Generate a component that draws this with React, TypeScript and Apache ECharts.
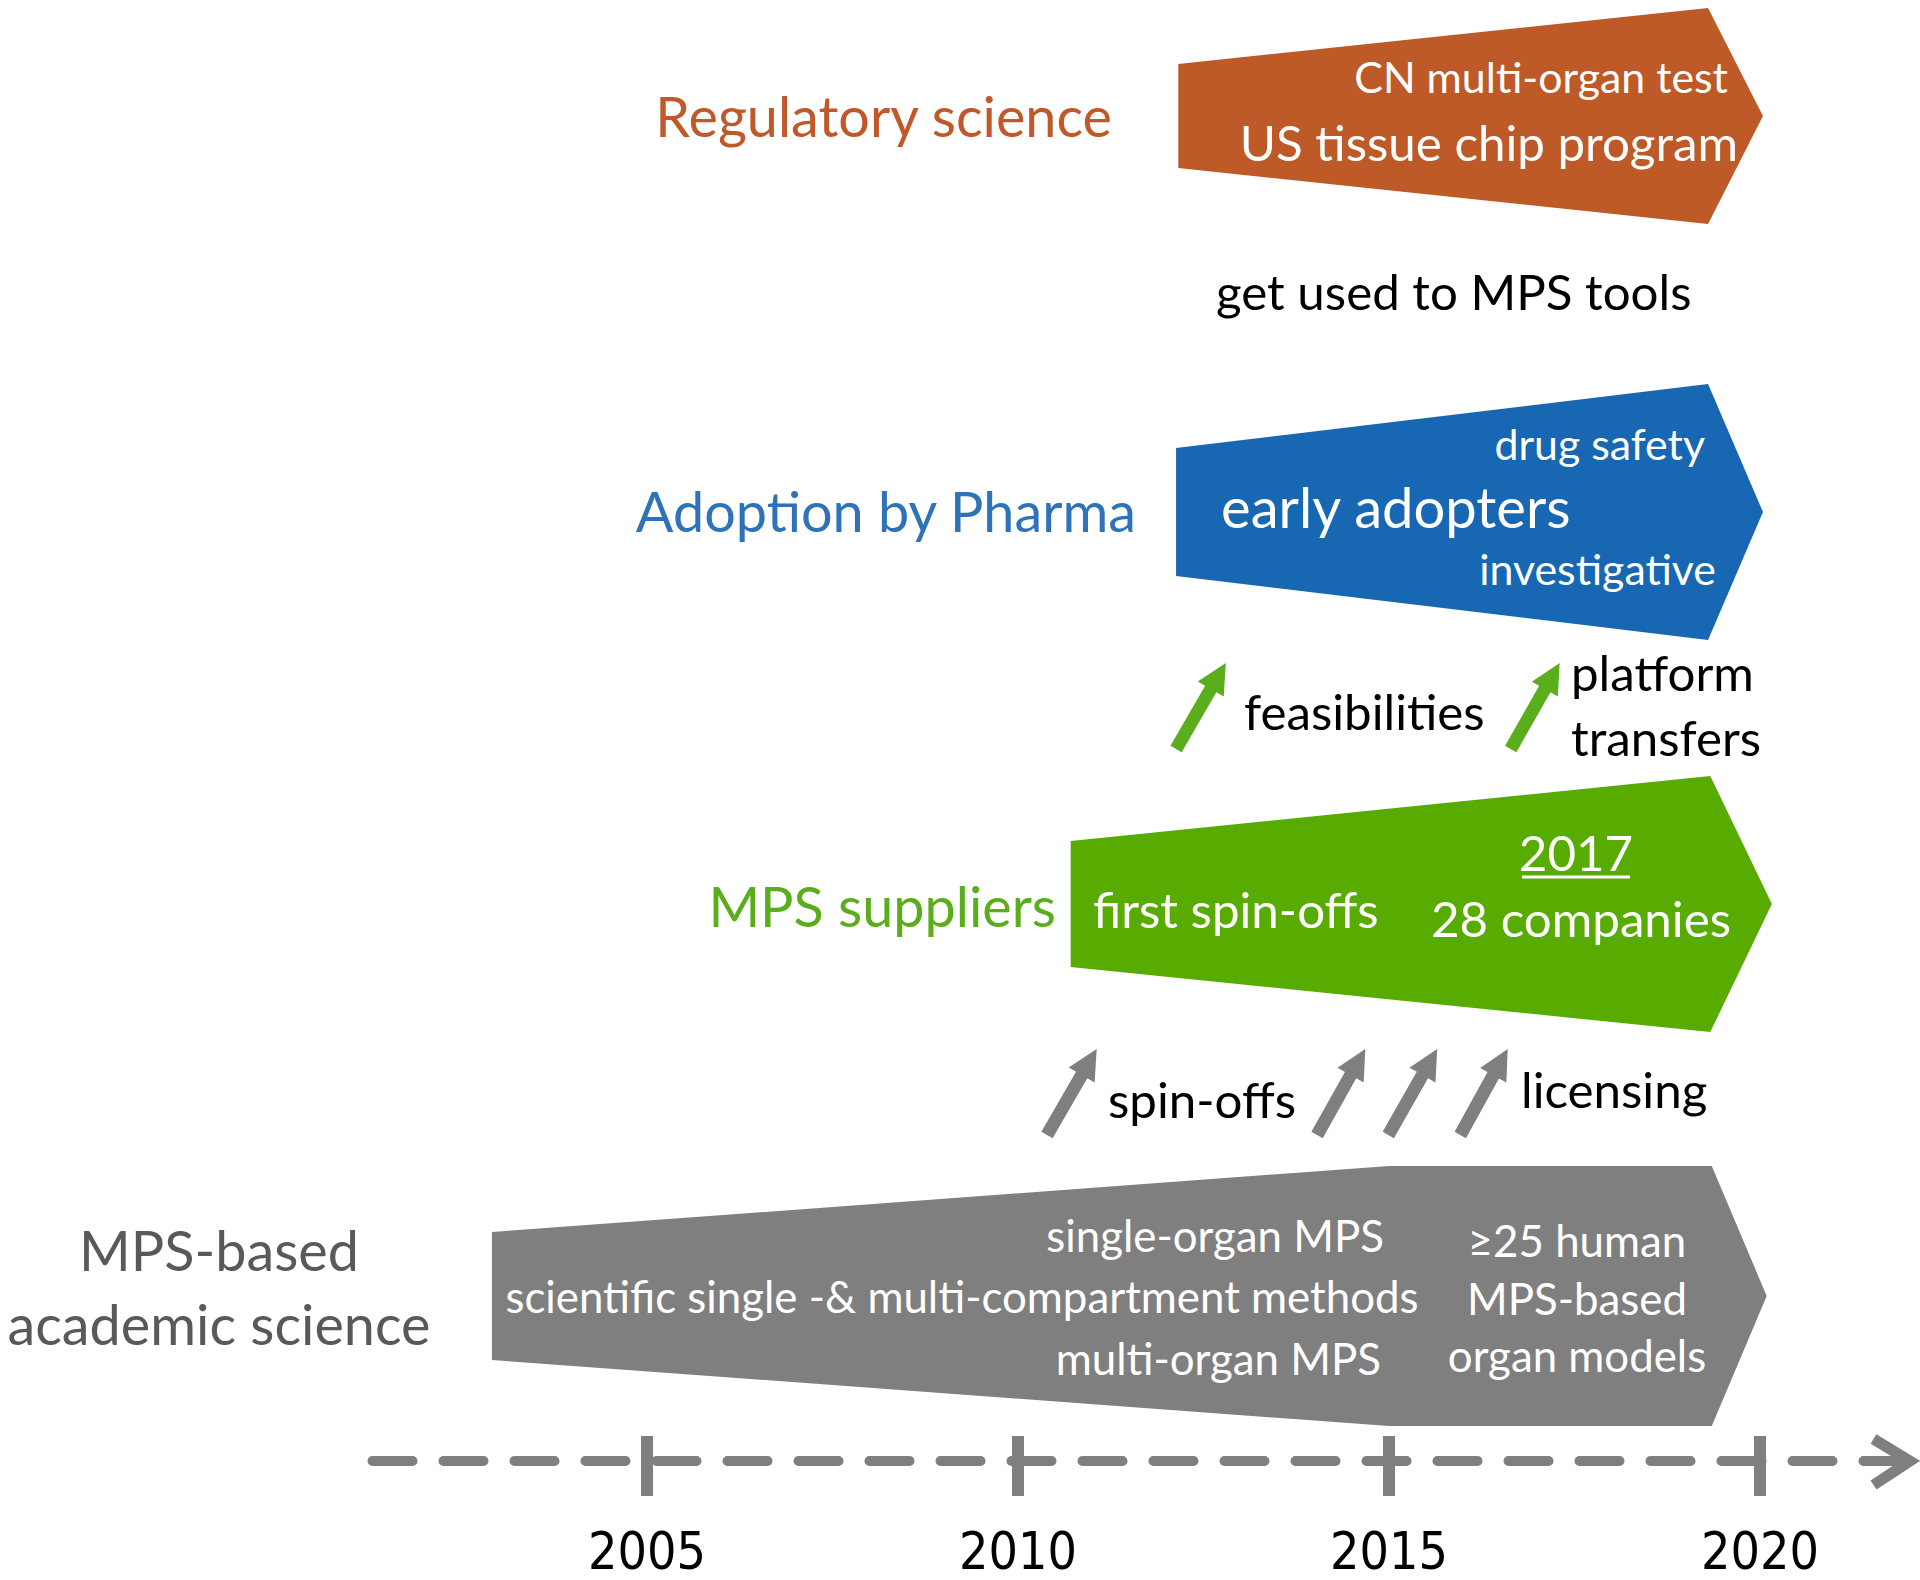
import React, { useEffect, useRef } from "react";
import * as echarts from "echarts";

// ---------- data (years on the timeline) ----------
const yearTicks = [2005, 2010, 2015, 2020];
const axisStartYear = 2001.3;
const axisEndYear = 2022;

const bandNames = ["Regulatory science", "Adoption by Pharma", "MPS suppliers", "MPS-based academic science"];
const bandStartYear = [2012.16, 2012.13, 2010.71, 2002.91];
const bandKinkYear: (number | null)[] = [null, null, null, 2015.0];
const bandShoulderYear = [2019.3, 2019.3, 2019.33, 2019.35];
const bandTipYear = [2020.04, 2020.04, 2020.16, 2020.09];

const spinOffFromYear = [2010.39, 2014.03, 2014.99, 2015.96];
const spinOffToYear = [2011.06, 2014.68, 2015.65, 2016.6];
const adoptionFromYear = [2012.13, 2016.64];
const adoptionToYear = [2012.8, 2017.3];

// ---------- layout (vertical positions, sizes, colours) ----------
const bandCenterY = [116, 512, 904, 1296];
const bandHalfLeft = [52, 64, 63, 64];
const bandHalfRight = [108, 128, 128, 130];
const bandColors = ["#BD5A27", "#1767B3", "#58AB00", "#7F7F7F"];
const labelColors = ["#C0582A", "#2E72B8", "#5AAE1C", "#595959"];
const AXIS_Y = 1461;
const GRAY = "#7F7F7F";
const GREEN_ARROW = "#5AAE1C";
const FONT = "Lato, 'Open Sans', sans-serif";
const YEAR_FONT = "'Liberation Sans Narrow', 'DejaVu Sans Condensed', Lato, sans-serif";
const TEXT_DY = -4;

function measure(text: string, family: string) {
  const c = document.createElement("canvas").getContext("2d")!;
  c.font = `100px ${family}`;
  return c.measureText(text).width;
}
function fit(pairs: [string, number][], family: string) {
  let s = 0;
  pairs.forEach(([t, w]) => (s += (100 * w) / measure(t, family)));
  return s / pairs.length;
}

export default function App() {
  const ref = useRef<HTMLDivElement>(null);
  useEffect(() => {
    document.body.style.margin = "0";
    const chart = echarts.init(ref.current!, undefined, { renderer: "svg", width: 1920, height: 1580 });

    const catSize = fit([["Regulatory science", 457], ["Adoption by Pharma", 506], ["MPS suppliers", 343], ["academic science", 426]], FONT);
    const mainSize = fit([["US tissue chip program", 500], ["get used to MPS tools", 476], ["feasibilities", 242], ["28 companies", 300], ["first spin-offs", 283]], FONT);
    const smallSize = fit([["CN multi-organ test", 373], ["drug safety", 212], ["investigative", 236]], FONT);
    const earlySize = fit([["early adopters", 351]], FONT);
    const grayInSize = fit([["scientific single -& multi-compartment methods", 920], ["single-organ MPS", 332], ["organ models", 261]], FONT);
    const yearSize = fit([["2005", 118]], YEAR_FONT);

    type T = { t: string; x: number; y: number; s: number; c: string; a: "left" | "right" | "center" };
    const W = "#FFFFFF";
    const K = "#000000";
    const texts: T[] = [
      { t: bandNames[0], x: 1112, y: 119, s: catSize, c: labelColors[0], a: "right" },
      { t: bandNames[1], x: 1136, y: 514, s: catSize, c: labelColors[1], a: "right" },
      { t: bandNames[2], x: 1056, y: 909, s: catSize, c: labelColors[2], a: "right" },
      { t: "MPS-based", x: 219, y: 1253, s: catSize, c: labelColors[3], a: "center" },
      { t: "academic science", x: 219, y: 1327, s: catSize, c: labelColors[3], a: "center" },
      { t: "CN multi-organ test", x: 1728, y: 80, s: smallSize, c: W, a: "right" },
      { t: "US tissue chip program", x: 1738, y: 145, s: mainSize, c: W, a: "right" },
      { t: "drug safety", x: 1705, y: 447, s: smallSize, c: W, a: "right" },
      { t: "early adopters", x: 1221, y: 510, s: earlySize, c: W, a: "left" },
      { t: "investigative", x: 1716, y: 572, s: smallSize, c: W, a: "right" },
      { t: "first spin-offs", x: 1093, y: 912, s: mainSize, c: W, a: "left" },
      { t: "2017", x: 1576, y: 855, s: mainSize, c: W, a: "center" },
      { t: "28 companies", x: 1581, y: 921, s: mainSize, c: W, a: "center" },
      { t: "single-organ MPS", x: 1384, y: 1239, s: grayInSize, c: W, a: "right" },
      { t: "scientific single -& multi-compartment methods", x: 962, y: 1300, s: grayInSize, c: W, a: "center" },
      { t: "multi-organ MPS", x: 1381, y: 1362, s: grayInSize, c: W, a: "right" },
      { t: "≥25 human", x: 1577, y: 1244, s: grayInSize, c: W, a: "center" },
      { t: "MPS-based", x: 1577, y: 1302, s: grayInSize, c: W, a: "center" },
      { t: "organ models", x: 1577, y: 1359, s: grayInSize, c: W, a: "center" },
      { t: "get used to MPS tools", x: 1216, y: 294, s: mainSize, c: K, a: "left" },
      { t: "feasibilities", x: 1244, y: 714, s: mainSize, c: K, a: "left" },
      { t: "platform", x: 1571, y: 675, s: mainSize, c: K, a: "left" },
      { t: "transfers", x: 1571, y: 740, s: mainSize, c: K, a: "left" },
      { t: "spin-offs", x: 1108, y: 1102, s: mainSize, c: K, a: "left" },
      { t: "licensing", x: 1521, y: 1092, s: mainSize, c: K, a: "left" },
    ];

    const graphic: any[] = texts.map((d) => ({
      type: "text",
      x: d.x,
      y: d.y + TEXT_DY,
      z: 100,
      style: {
        text: d.t,
        fill: d.c,
        fontSize: d.s,
        fontFamily: FONT,
        align: d.a,
        textAlign: d.a,
        verticalAlign: "middle",
        textVerticalAlign: "middle",
      },
    }));
    graphic.push({
      type: "line",
      z: 100,
      shape: { x1: 1522, y1: 877, x2: 1630, y2: 877 },
      style: { stroke: W, lineWidth: 3 },
    });

    const arrowPolygon = (api: any, x0: number, y0: number, x1: number, y1: number) => {
      const p0 = api.coord([x0, y0]);
      const p1 = api.coord([x1, y1]);
      const dx = p1[0] - p0[0], dy = p1[1] - p0[1];
      const len = Math.hypot(dx, dy);
      const ux = dx / len, uy = dy / len;
      const nx = -uy, ny = ux;
      const w = 6.5, hw = 15, hl = 30;
      const bx = p1[0] - ux * hl, by = p1[1] - uy * hl;
      return [
        [p0[0] + nx * w, p0[1] + ny * w],
        [bx + nx * w, by + ny * w],
        [bx + nx * hw, by + ny * hw],
        [p1[0], p1[1]],
        [bx - nx * hw, by - ny * hw],
        [bx - nx * w, by - ny * w],
        [p0[0] - nx * w, p0[1] - ny * w],
      ];
    };

    const option: any = {
      animation: false,
      backgroundColor: "#FFFFFF",
      grid: { left: 372.5, right: 11.6, top: 0, bottom: 1580 - AXIS_Y, containLabel: false, outerBoundsMode: "none" },
      xAxis: {
        type: "value",
        min: axisStartYear,
        max: axisEndYear,
        position: "bottom",
        splitLine: { show: false },
        axisTick: { show: false },
        axisLine: { show: true, onZero: false, lineStyle: { color: GRAY, width: 10, type: [40, 31] } },
        axisLabel: {
          customValues: yearTicks,
          fontSize: yearSize,
          fontFamily: YEAR_FONT,
          color: "#000",
          margin: 90 - yearSize / 2,
          formatter: (v: number) => String(v),
        },
      },
      yAxis: { type: "value", min: 0, max: AXIS_Y, inverse: true, show: false },
      graphic,
      series: [
        {
          type: "custom",
          name: "bands",
          clip: false,
          data: bandNames.map((_, i) => [bandStartYear[i], bandCenterY[i], i]),
          renderItem: (_p: any, api: any) => {
            const i = api.value(2);
            const c = bandCenterY[i], hl = bandHalfLeft[i], hr = bandHalfRight[i];
            const k = bandKinkYear[i];
            const pts: number[][] = [[bandStartYear[i], c - hl]];
            if (k != null) pts.push([k, c - hr]);
            pts.push([bandShoulderYear[i], c - hr], [bandTipYear[i], c], [bandShoulderYear[i], c + hr]);
            if (k != null) pts.push([k, c + hr]);
            pts.push([bandStartYear[i], c + hl]);
            return { type: "polygon", shape: { points: pts.map((p) => api.coord(p)) }, style: { fill: bandColors[i] } };
          },
        },
        {
          type: "custom",
          name: "spin-off arrows",
          clip: false,
          data: spinOffFromYear.map((f, i) => [f, 1135, spinOffToYear[i], 1049]),
          renderItem: (_p: any, api: any) => ({
            type: "polygon",
            shape: { points: arrowPolygon(api, api.value(0), api.value(1), api.value(2), api.value(3)) },
            style: { fill: GRAY },
          }),
        },
        {
          type: "custom",
          name: "adoption arrows",
          clip: false,
          data: adoptionFromYear.map((f, i) => [f, 749, adoptionToYear[i], 663]),
          renderItem: (_p: any, api: any) => ({
            type: "polygon",
            shape: { points: arrowPolygon(api, api.value(0), api.value(1), api.value(2), api.value(3)) },
            style: { fill: GREEN_ARROW },
          }),
        },
        {
          type: "custom",
          name: "year ticks",
          clip: false,
          data: yearTicks.map((y) => [y, AXIS_Y]),
          renderItem: (_p: any, api: any) => {
            const a = api.coord([api.value(0), AXIS_Y - 25]);
            const b = api.coord([api.value(0), AXIS_Y + 35]);
            return { type: "line", shape: { x1: a[0], y1: a[1], x2: b[0], y2: b[1] }, style: { stroke: GRAY, lineWidth: 12 } };
          },
        },
        {
          type: "custom",
          name: "axis arrow",
          clip: false,
          data: [[axisEndYear, AXIS_Y]],
          renderItem: (_p: any, api: any) => {
            const pts = [
              api.coord([axisEndYear - 0.47, AXIS_Y - 22]),
              api.coord([axisEndYear + 0.02, AXIS_Y]),
              api.coord([axisEndYear - 0.47, AXIS_Y + 24]),
            ];
            return { type: "polyline", shape: { points: pts }, style: { stroke: GRAY, lineWidth: 11, fill: "none" } };
          },
        },
      ],
    };
    chart.setOption(option);
    return () => chart.dispose();
  }, []);
  return <div ref={ref} style={{ width: 1920, height: 1580 }} />;
}
